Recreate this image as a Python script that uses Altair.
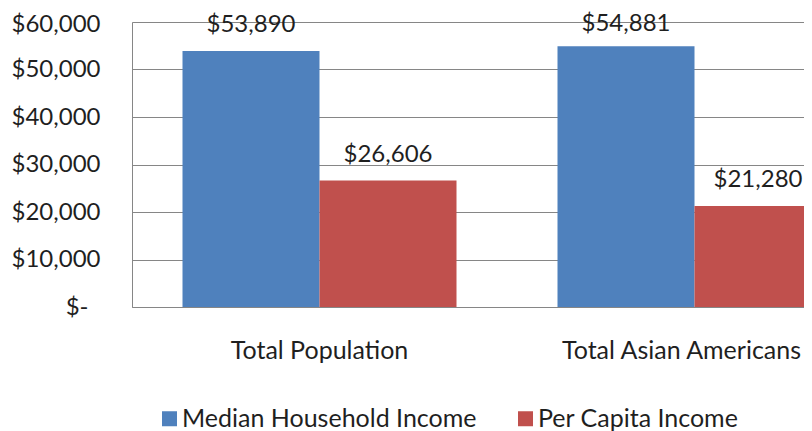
import altair as alt
import pandas as pd

groups = ["Total Population", "Total Asian Americans"]
series = ["Median Household Income", "Per Capita Income"]
median_household = [53890, 54881]
per_capita = [26606, 21280]
colors = ["#4F81BD", "#C0504D"]

rows = []
for i, g in enumerate(groups):
    rows.append({"group": g, "series": series[0], "value": median_household[i]})
    rows.append({"group": g, "series": series[1], "value": per_capita[i]})
df = pd.DataFrame(rows)

FONT = "Lato"
TXT = "#1f1f1f"
GRID = "#868686"
NUM_FS = 24
TXT_FS = 25

x_enc = alt.X(
    "group:N",
    sort=groups,
    title=None,
    scale=alt.Scale(range=[0, 750], paddingInner=0, paddingOuter=0),
    axis=alt.Axis(
        labelAngle=0,
        labelFontSize=TXT_FS,
        labelFont=FONT,
        labelColor=TXT,
        ticks=False,
        labelPadding=31,
        labelOffset=alt.condition(
            "datum.value == 'Total Asian Americans'", alt.value(-13), alt.value(0)
        ),
        domainColor=GRID,
        labelLimit=400,
    ),
)
xoff = alt.XOffset(
    "series:N",
    sort=series,
    scale=alt.Scale(paddingInner=0, paddingOuter=0.3686),
)
y_enc = alt.Y(
    "value:Q",
    title=None,
    scale=alt.Scale(domain=[0, 60000], nice=False),
    axis=alt.Axis(
        values=[0, 10000, 20000, 30000, 40000, 50000, 60000],
        labelExpr="datum.value == 0 ? '$-' : '$' + format(datum.value, ',')",
        labelFontSize=NUM_FS,
        labelFont=FONT,
        labelColor=TXT,
        ticks=False,
        labelPadding=alt.condition("datum.value == 0", alt.value(44), alt.value(32)),
        labelOffset=alt.condition("datum.value == 60000", alt.value(2), alt.value(0)),
        grid=True,
        gridColor=GRID,
        domainColor=GRID,
    ),
)

bars = alt.Chart(df).mark_bar(clip=True).encode(
    x=x_enc,
    xOffset=xoff,
    y=y_enc,
    color=alt.Color(
        "series:N",
        sort=series,
        scale=alt.Scale(domain=series, range=colors),
        legend=alt.Legend(
            title=None,
            orient="none",
            legendX=25,
            legendY=384,
            direction="horizontal",
            symbolType="square",
            symbolSize=225,
            symbolStrokeWidth=0,
            labelFontSize=TXT_FS,
            labelFont=FONT,
            labelColor=TXT,
            labelOffset=0,
            columnPadding=36,
            labelLimit=400,
        ),
    ),
)

labels = alt.Chart(df).mark_text(
    baseline="alphabetic",
    dy=alt.expr("datum.value > 54000 ? -15 : -19"),
    dx=alt.expr(
        "datum.series == 'Per Capita Income' && datum.group == 'Total Asian Americans' ? -5 : 0"
    ),
    fontSize=NUM_FS,
    font=FONT,
    color=TXT,
).encode(
    x=alt.X("group:N", sort=groups),
    xOffset=alt.XOffset("series:N", sort=series),
    y="value:Q",
    text=alt.Text("value:Q", format="$,.0f"),
)

chart = (
    alt.layer(bars, labels)
    .properties(
        width=672,
        height=285,
        autosize=alt.AutoSizeParams(type="none"),
        padding={"left": 124, "top": 14, "right": 0, "bottom": 124},
    )
    .configure_view(stroke=None)
    .configure(background="white")
)

chart.save("out.html", embed_options={"renderer": "svg", "actions": False})
